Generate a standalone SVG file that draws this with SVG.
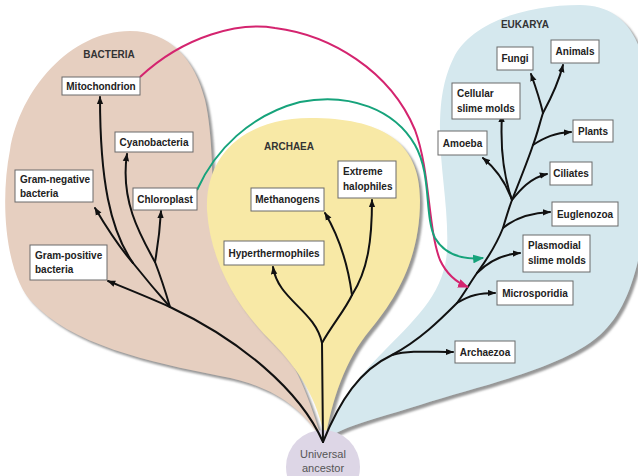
<svg xmlns="http://www.w3.org/2000/svg" width="638" height="476" viewBox="0 0 638 476">
<style>
.box{fill:#fff;stroke:#6a6a6a;stroke-width:1}
.lbl{font-family:"Liberation Sans",Arial,sans-serif;font-size:10px;font-weight:bold;fill:#222}
.grp{font-family:"Liberation Sans",Arial,sans-serif;font-size:10px;font-weight:bold;fill:#333;text-anchor:middle}
.c{text-anchor:middle}
.br{fill:none;stroke:#111;stroke-width:2;stroke-linecap:round}
.arr{marker-end:url(#ah)}
.uni{font-family:"Liberation Sans",Arial,sans-serif;font-size:11px;fill:#555;text-anchor:middle}
</style>
<defs>
<filter id="sh" x="-10%" y="-10%" width="130%" height="130%">
<feDropShadow dx="3" dy="3" stdDeviation="1.2" flood-color="#8c8c8c" flood-opacity="0.9"/>
</filter>
<marker id="ah" viewBox="0 0 10 8" refX="9" refY="4" markerWidth="8" markerHeight="7" orient="auto" markerUnits="userSpaceOnUse"><path d="M0,0 L10,4 L0,8 Z" fill="#111"/></marker>
<marker id="ahp" viewBox="0 0 10 8" refX="9" refY="4" markerWidth="11" markerHeight="9" orient="auto" markerUnits="userSpaceOnUse"><path d="M0,0 L10,4 L0,8 Z" fill="#d4246f"/></marker>
<marker id="ahg" viewBox="0 0 10 8" refX="9" refY="4" markerWidth="11" markerHeight="9" orient="auto" markerUnits="userSpaceOnUse"><path d="M0,0 L10,4 L0,8 Z" fill="#16a37b"/></marker>
</defs>
<rect width="638" height="476" fill="#fff"/>

<g id="regions">
<path id="bacteria-region" filter="url(#sh)" fill="#e6cfc0" d="M130,31 C170,31 195,60 205,100 C213,135 212,180 214,220 C217,260 240,300 270,330 C295,360 310,400 322,440 C300,405 270,385 220,376 C150,362 70,345 30,300 C5,270 0,200 10,150 C20,90 70,31 130,31 Z"/>
<path id="archaea-region" filter="url(#sh)" fill="#f8e9a6" d="M310,118 C380,118 420,140 420,200 C420,260 395,300 370,330 C345,360 332,400 325,440 C318,400 300,370 270,340 C235,305 210,260 207,210 C205,150 250,118 310,118 Z"/>
<path id="eukarya-region" filter="url(#sh)" fill="#d5e8ee" d="M455,55 C475,20 530,5 580,5 C625,5 650,40 650,120 C650,220 640,300 600,335 C560,370 480,385 420,405 C380,418 345,425 325,440 C335,410 350,385 385,350 C420,315 445,290 447,250 C449,210 440,170 440,130 C440,95 445,75 455,55 Z"/>
<text class="grp" x="109" y="58">BACTERIA</text>
<text class="grp" x="289" y="150">ARCHAEA</text>
<text class="grp" x="525" y="28">EUKARYA</text>
</g>

<g id="universal-ancestor">
<circle cx="323" cy="467" r="37" fill="#ddd6e6"/>
<text class="uni" x="323" y="458">Universal</text>
<text class="uni" x="323" y="472">ancestor</text>
</g>

<g id="connectors">
<!-- Bacteria -->
<path class="br" d="M323,442 C300,390 240,340 170,307"/>
<path class="br arr" d="M170,307 C150,298 130,290 108,281"/>
<path class="br" d="M170,307 C155,290 145,278 133,263"/>
<path class="br arr" d="M133,263 C120,248 105,225 95,208"/>
<path class="br arr" d="M133,263 C110,230 100,180 100,97"/>
<path class="br" d="M170,307 C165,290 160,275 155,262"/>
<path class="br arr" d="M155,262 C140,235 120,200 127,154"/>
<path class="br arr" d="M155,262 C158,245 160,228 161,211"/>
<!-- Archaea -->
<path class="br" d="M323,442 L322,343"/>
<path class="br arr" d="M322,343 C315,310 278,300 273,267"/>
<path class="br" d="M322,343 C332,325 345,310 352,295"/>
<path class="br arr" d="M352,295 C348,265 338,235 325,213"/>
<path class="br arr" d="M352,295 C368,270 372,240 372,200"/>
<!-- Eukarya -->
<path class="br" d="M323,442 C340,400 360,370 392,355 C420,340 440,320 457,303 C465,292 470,283 477,273 C488,258 497,243 503,228 C506,218 509,208 512,200 C520,180 528,160 533,145 C537,135 540,122 543,113"/>
<path class="br arr" d="M392,355 C410,350 430,352 453,352"/>
<path class="br arr" d="M457,303 C470,295 480,293 495,293"/>
<path class="br arr" d="M477,273 C490,260 505,254 520,253"/>
<path class="br arr" d="M503,228 C515,218 530,213 550,212"/>
<path class="br arr" d="M512,200 C520,190 530,178 547,174"/>
<path class="br arr" d="M512,200 C505,180 495,168 483,158"/>
<path class="br arr" d="M512,200 C505,180 500,150 502,115"/>
<path class="br arr" d="M533,145 C545,137 555,133 571,132"/>
<path class="br arr" d="M543,113 C540,100 536,88 531,74"/>
<path class="br arr" d="M543,113 C550,100 558,85 563,65"/>
<!-- Endosymbiosis -->
<path fill="none" stroke="#d4246f" stroke-width="2" marker-end="url(#ahp)" d="M140,77 C185,35 240,22 275,28 C330,35 390,70 415,130 C430,170 428,230 440,260 C447,275 458,283 468,287"/>
<path fill="none" stroke="#16a37b" stroke-width="2" marker-end="url(#ahg)" d="M197,190 C215,150 250,115 300,102 C350,92 395,110 415,145 C432,175 424,215 435,238 C445,255 462,260 483,258"/>
</g>

<g id="mitochondrion"><rect class="box" x="62" y="77" width="78" height="18"/><text class="lbl c" x="101" y="90">Mitochondrion</text></g>
<g id="cyanobacteria"><rect class="box" x="115" y="132" width="78" height="20"/><text class="lbl c" x="154" y="146">Cyanobacteria</text></g>
<g id="gram-negative"><rect class="box" x="15" y="170" width="78" height="32"/><text class="lbl" x="20" y="183">Gram-negative</text><text class="lbl" x="20" y="197">bacteria</text></g>
<g id="chloroplast"><rect class="box" x="133" y="188" width="64" height="22"/><text class="lbl c" x="165" y="203">Chloroplast</text></g>
<g id="gram-positive"><rect class="box" x="30" y="245" width="77" height="35"/><text class="lbl" x="35" y="259">Gram-positive</text><text class="lbl" x="35" y="273">bacteria</text></g>

<g id="extreme-halophiles"><rect class="box" x="338" y="161" width="58" height="37"/><text class="lbl" x="343" y="175">Extreme</text><text class="lbl" x="343" y="190">halophiles</text></g>
<g id="methanogens"><rect class="box" x="251" y="188" width="73" height="23"/><text class="lbl c" x="287.5" y="203">Methanogens</text></g>
<g id="hyperthermophiles"><rect class="box" x="224" y="241" width="100" height="24"/><text class="lbl c" x="274" y="257">Hyperthermophiles</text></g>

<g id="fungi"><rect class="box" x="497" y="47" width="36" height="23"/><text class="lbl c" x="515" y="62">Fungi</text></g>
<g id="animals"><rect class="box" x="551" y="40" width="48" height="23"/><text class="lbl c" x="575" y="55">Animals</text></g>
<g id="cellular-slime-molds"><rect class="box" x="452" y="83" width="68" height="36"/><text class="lbl" x="457" y="97">Cellular</text><text class="lbl" x="457" y="112">slime molds</text></g>
<g id="amoeba"><rect class="box" x="438" y="131" width="49" height="24"/><text class="lbl c" x="462.5" y="147">Amoeba</text></g>
<g id="plants"><rect class="box" x="573" y="120" width="40" height="22"/><text class="lbl c" x="593" y="135">Plants</text></g>
<g id="ciliates"><rect class="box" x="550" y="162" width="42" height="23"/><text class="lbl c" x="571" y="177">Ciliates</text></g>
<g id="euglenozoa"><rect class="box" x="552" y="202" width="66" height="24"/><text class="lbl c" x="585" y="218">Euglenozoa</text></g>
<g id="plasmodial-slime-molds"><rect class="box" x="523" y="235" width="67" height="37"/><text class="lbl" x="528" y="249">Plasmodial</text><text class="lbl" x="528" y="264">slime molds</text></g>
<g id="microsporidia"><rect class="box" x="497" y="281" width="76" height="24"/><text class="lbl c" x="535" y="297">Microsporidia</text></g>
<g id="archaezoa"><rect class="box" x="455" y="341" width="60" height="22"/><text class="lbl c" x="485" y="356">Archaezoa</text></g>
</svg>
